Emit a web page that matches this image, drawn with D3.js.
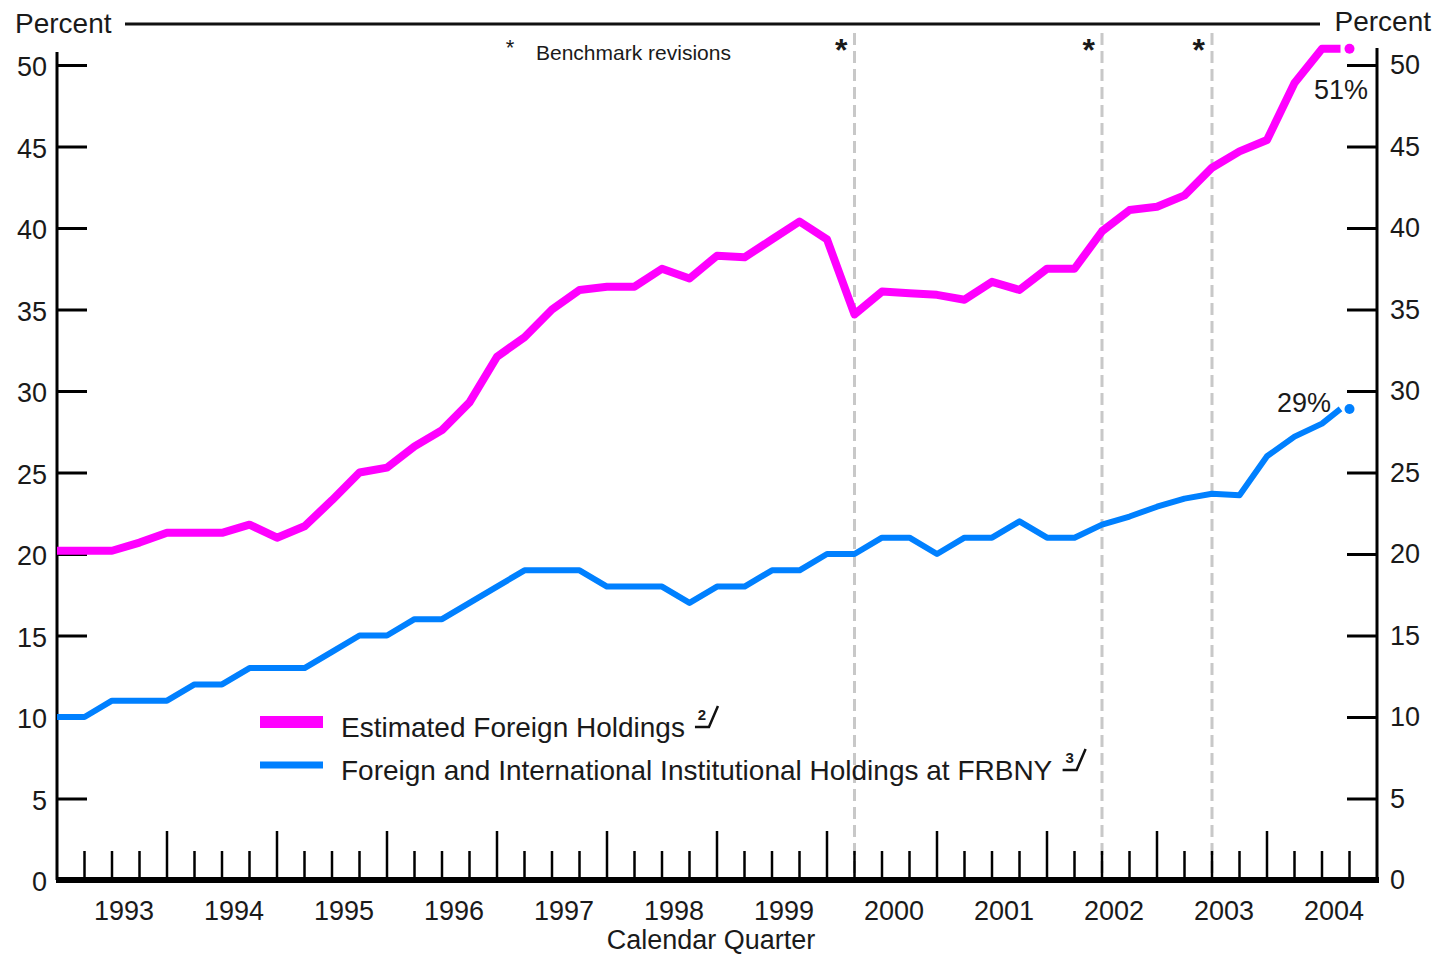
<!DOCTYPE html>
<html>
<head>
<meta charset="utf-8">
<script src="https://cdn.jsdelivr.net/npm/d3@7"></script>
<style>
    body { margin: 0; background: #fff; }
    svg { display: block; }
    text { font-family: "Liberation Sans", Arial, sans-serif; fill: #1a1a1a; }
</style>
</head>
<body>
<div class="chart"></div>
<script>
// --- data (percent, one value per calendar quarter)
const years = [1993, 1994, 1995, 1996, 1997, 1998, 1999, 2000, 2001, 2002, 2003, 2004];

const estimatedForeign = [
    20.2, 20.2, 20.2, 20.7, 21.3, 21.3, 21.3, 21.8, 21.0, 21.7,
    23.3, 25.0, 25.3, 26.6, 27.6, 29.3, 32.1, 33.3, 35.0, 36.2,
    36.4, 36.4, 37.5, 36.9, 38.3, 38.2, 39.3, 40.4, 39.3, 34.7,
    36.1, 36.0, 35.9, 35.6, 36.7, 36.2, 37.5, 37.5, 39.8, 41.1,
    41.3, 42.0, 43.7, 44.7, 45.4, 48.9, 51.0, 51.0
];

const frbnyHoldings = [
    10, 10, 11, 11, 11, 12, 12, 13, 13, 13,
    14, 15, 15, 16, 16, 17, 18, 19, 19, 19,
    18, 18, 18, 17, 18, 18, 19, 19, 20, 20,
    21, 21, 20, 21, 21, 22, 21, 21, 21.8, 22.3,
    22.9, 23.4, 23.7, 23.6, 26.0, 27.2, 28.0, 28.9
];

// quarter index of each benchmark revision
const revisions = [29, 38, 42];
const yTicks = [0, 5, 10, 15, 20, 25, 30, 35, 40, 45, 50];

const endLabels = ["51%", "29%"];
const legendLabels = ["Estimated Foreign Holdings", "Foreign and International Institutional Holdings at FRBNY"];
const footnotes = ["2", "3"];

const MAGENTA = "#ff00ff", BLUE = "#0080ff";

// INIT SVG
const width = 1437, height = 957;
const svg = d3.select(".chart").append("svg")
    .attr("width", width)
    .attr("height", height);

const nQ = years.length * 4;
const x = d3.scaleLinear().domain([0, nQ]).range([57, 1377]);
const y = d3.scaleLinear().domain([0, 50]).range([880, 65]);

// --- top rule and "Percent" labels
svg.append("line")
    .attr("x1", 125).attr("x2", 1320)
    .attr("y1", 24).attr("y2", 24)
    .attr("stroke", "#111").attr("stroke-width", 3);

svg.append("text").attr("x", 15).attr("y", 33)
    .attr("font-size", 28).text("Percent");
svg.append("text").attr("x", 1431).attr("y", 31)
    .attr("text-anchor", "end")
    .attr("font-size", 28).text("Percent");

// --- benchmark revision lines
svg.selectAll(".rev")
    .data(revisions)
    .enter().append("line")
    .attr("class", "rev")
    .attr("x1", d => x(d)).attr("x2", d => x(d))
    .attr("y1", 33).attr("y2", 878)
    .attr("stroke", "#c8c8c8")
    .attr("stroke-width", 3)
    .attr("stroke-dasharray", "12,6");

svg.selectAll(".star")
    .data(revisions)
    .enter().append("text")
    .attr("class", "star")
    .attr("x", d => x(d) - 7)
    .attr("y", 61)
    .attr("text-anchor", "end")
    .attr("font-size", 32)
    .attr("font-weight", "bold")
    .text("*");

svg.append("text").attr("x", 510).attr("y", 55)
    .attr("text-anchor", "middle")
    .attr("font-size", 22).text("*");
svg.append("text").attr("x", 536).attr("y", 60)
    .attr("font-size", 21).text("Benchmark revisions");

// --- axes lines
svg.append("line")
    .attr("x1", x(0)).attr("x2", x(0))
    .attr("y1", 52).attr("y2", 880)
    .attr("stroke", "#000").attr("stroke-width", 3);
svg.append("line")
    .attr("x1", x(nQ)).attr("x2", x(nQ))
    .attr("y1", 48).attr("y2", 880)
    .attr("stroke", "#000").attr("stroke-width", 3);

// left / right y ticks
const leftAxis = svg.append("g")
    .attr("transform", `translate(${x(0)},0)`)
    .call(d3.axisRight(y).tickValues(yTicks).tickSize(30).tickFormat(""));
const rightAxis = svg.append("g")
    .attr("transform", `translate(${x(nQ)},0)`)
    .call(d3.axisLeft(y).tickValues(yTicks).tickSize(30).tickFormat(""));
[leftAxis, rightAxis].forEach(a => {
    a.select(".domain").remove();
    a.selectAll(".tick line").attr("stroke", "#000").attr("stroke-width", 3);
});

svg.selectAll(".ylabL")
    .data(yTicks)
    .enter().append("text")
    .attr("class", "ylabL")
    .attr("x", 47)
    .attr("y", d => y(d) + 2)
    .attr("dy", "0.35em")
    .attr("text-anchor", "end")
    .attr("font-size", 27)
    .text(d => d);

svg.selectAll(".ylabR")
    .data(yTicks)
    .enter().append("text")
    .attr("class", "ylabR")
    .attr("x", 1390)
    .attr("y", d => y(d))
    .attr("dy", "0.35em")
    .attr("font-size", 27)
    .text(d => d);

// quarter ticks on the bottom, taller at year boundaries
const qTicks = d3.range(1, nQ);
svg.selectAll(".qtick")
    .data(qTicks)
    .enter().append("line")
    .attr("class", "qtick")
    .attr("x1", d => x(d)).attr("x2", d => x(d))
    .attr("y1", d => d % 4 === 0 ? 831 : 851)
    .attr("y2", 880)
    .attr("stroke", "#000")
    .attr("stroke-width", 2.5);

svg.append("line")
    .attr("x1", x(0) - 1).attr("x2", x(nQ) + 2)
    .attr("y1", 880).attr("y2", 880)
    .attr("stroke", "#000").attr("stroke-width", 6);

svg.selectAll(".year")
    .data(years)
    .enter().append("text")
    .attr("class", "year")
    .attr("x", (d, i) => x(i * 4 + 2) + 12)
    .attr("y", 920)
    .attr("text-anchor", "middle")
    .attr("font-size", 27)
    .text(d => d);

svg.append("text").attr("x", 711).attr("y", 949)
    .attr("text-anchor", "middle")
    .attr("font-size", 27).text("Calendar Quarter");

// SERIES
const series = [
    { values: estimatedForeign, color: MAGENTA, width: 8 },
    { values: frbnyHoldings, color: BLUE, width: 6 }
];

// the line stops just short of its end dot
const line = d3.line()
    .x((d, i, arr) => i === arr.length - 1 ? x(i) - 9 : x(i))
    .y(d => y(d));

svg.selectAll(".series")
    .data(series)
    .enter().append("path")
    .attr("class", "series")
    .attr("fill", "none")
    .attr("stroke", d => d.color)
    .attr("stroke-width", d => d.width)
    .attr("stroke-linejoin", "round")
    .attr("d", d => line(d.values));

// end points and labels
svg.selectAll(".enddot")
    .data(series)
    .enter().append("circle")
    .attr("class", "enddot")
    .attr("cx", d => x(d.values.length - 1))
    .attr("cy", d => y(d.values[d.values.length - 1]))
    .attr("r", 5)
    .attr("fill", d => d.color);

svg.selectAll(".endlab")
    .data(series)
    .enter().append("text")
    .attr("class", "endlab")
    .attr("x", (d, i) => i === 0 ? 1368 : 1331)
    .attr("y", (d, i) => y(d.values[d.values.length - 1]) + (i === 0 ? 50 : 3))
    .attr("text-anchor", "end")
    .attr("font-size", 27)
    .text((d, i) => endLabels[i]);

// LEGEND
const legend = svg.append("g").attr("class", "legend");
const legendY = [722, 765];

legend.selectAll(".swatch")
    .data(series)
    .enter().append("line")
    .attr("class", "swatch")
    .attr("x1", 260).attr("x2", 323)
    .attr("y1", (d, i) => legendY[i]).attr("y2", (d, i) => legendY[i])
    .attr("stroke", d => d.color)
    .attr("stroke-width", (d, i) => i === 0 ? 12 : 7);

const legendText = legend.selectAll(".ltext")
    .data(legendLabels)
    .enter().append("text")
    .attr("class", "ltext")
    .attr("x", 341)
    .attr("y", (d, i) => legendY[i] + 15)
    .attr("font-size", 28)
    .text(d => d);

// footnote markers: small number over a hooked slash
legendText.each(function(d, i) {
    const bb = this.getBBox();
    const fx = bb.x + bb.width + 12;
    const fy = legendY[i] + 5;
    const g = legend.append("g").attr("transform", `translate(${fx},${fy})`);
    g.append("text").attr("x", 5).attr("y", -7)
        .attr("text-anchor", "middle")
        .attr("font-size", 15).attr("font-weight", "bold")
        .text(footnotes[i]);
    g.append("path")
        .attr("d", "M-2,0 L12,0 L21,-21")
        .attr("fill", "none")
        .attr("stroke", "#111")
        .attr("stroke-width", 2.5);
});
</script>
</body>
</html>
